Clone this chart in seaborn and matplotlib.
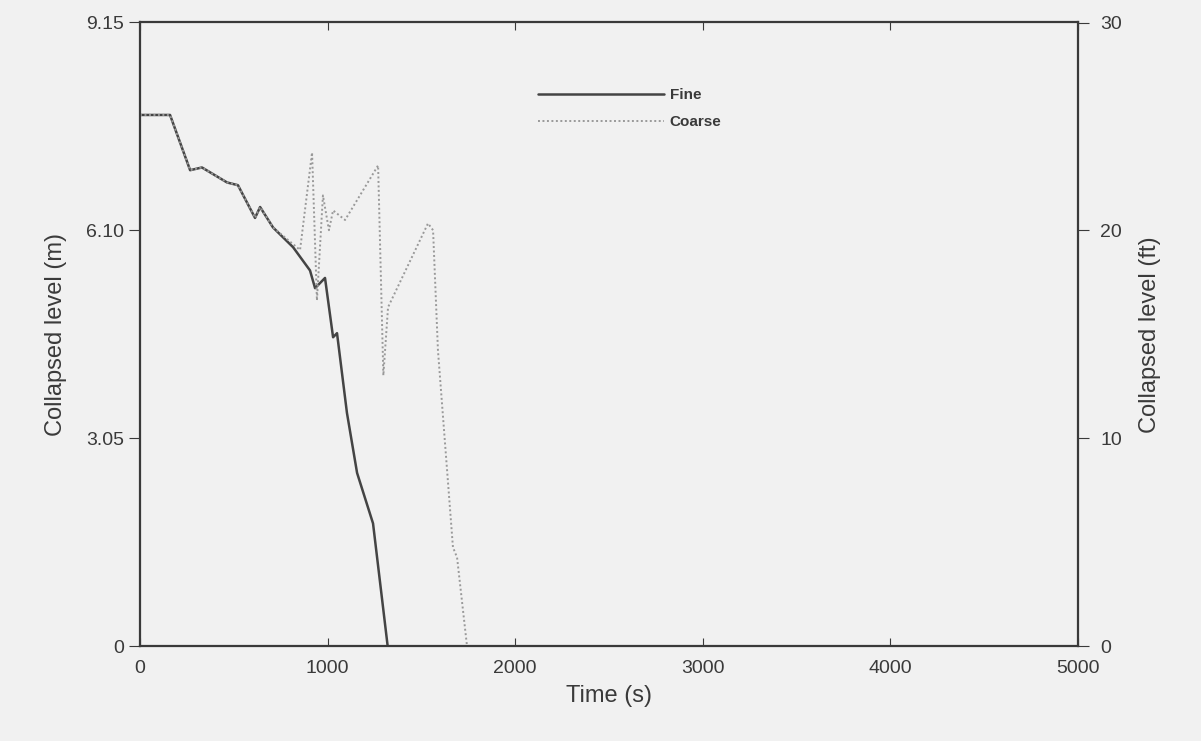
import numpy as np
import pandas as pd
import seaborn as sns
import matplotlib.pyplot as plt

# values (time in s, collapsed level in m)
fine_t = [0, 160, 267, 330, 464, 522, 613, 640, 709, 816, 906, 933, 986, 1029, 1050, 1103, 1157, 1242, 1320]
fine_m = [7.79, 7.79, 6.98, 7.02, 6.80, 6.76, 6.28, 6.44, 6.14, 5.85, 5.51, 5.25, 5.40, 4.53, 4.59, 3.42, 2.54, 1.80, 0.0]

coarse_t = [0, 160, 267, 330, 464, 522, 613, 640, 709, 853, 917, 943, 975, 1007, 1029, 1093, 1269, 1297,
            1322, 1535, 1562, 1588, 1668, 1690, 1743]
coarse_m = [7.79, 7.79, 6.98, 7.02, 6.80, 6.76, 6.28, 6.44, 6.14, 5.81, 7.24, 5.07, 6.61, 6.10, 6.39, 6.25, 7.05, 3.97,
            4.97, 6.20, 6.10, 4.34, 1.45, 1.30, 0.0]

m_ticks = [0, 3.05, 6.10, 9.15]
m_labels = ['0', '3.05', '6.10', '9.15']
ft_ticks = [0, 10, 20, 30]

df_fine = pd.DataFrame({'Time': fine_t, 'Level': fine_m})
df_coarse = pd.DataFrame({'Time': coarse_t, 'Level': coarse_m})

sns.set_style("ticks")
plt.rcParams['font.family'] = ['Liberation Sans', 'DejaVu Sans']
bg = '#f1f1f1'
ink = '#3a3a3a'

fig = plt.figure(figsize=(12.01, 7.41), dpi=100, facecolor=bg)
ax = fig.add_axes([0.1166, 0.128, 0.781, 0.842], facecolor=bg)

sns.lineplot(data=df_fine, x='Time', y='Level', ax=ax, color='#444444', lw=1.8, label='Fine', sort=False)
sns.lineplot(data=df_coarse, x='Time', y='Level', ax=ax, color='#999999', lw=1.4, ls=(0, (1.0, 1.3)),
             label='Coarse', sort=False)

ax.set_xlim(0, 5000)
ax.set_ylim(0, 9.15)
ax.set_xticks([0, 1000, 2000, 3000, 4000, 5000])
ax.set_yticks(m_ticks)
ax.set_yticklabels(m_labels)
ax.tick_params(axis='x', direction='in', top=True, length=6, colors=ink, labelsize=14, pad=10)
ax.tick_params(axis='y', direction='out', length=8, colors=ink, labelsize=14)
for s in ax.spines.values():
    s.set_color(ink)
    s.set_linewidth(1.6)
ax.set_xlabel('Time (s)', fontsize=17, color=ink, labelpad=6)
ax.set_ylabel('Collapsed level (m)', fontsize=17, color=ink, labelpad=14)

ax2 = ax.twinx()
ax2.set_ylim(0, 9.15 / 0.3048)
ax2.set_yticks(ft_ticks)
ax2.tick_params(axis='y', direction='out', length=8, colors=ink, labelsize=14, pad=8)
ax2.set_ylabel('Collapsed level (ft)', fontsize=17, color=ink, labelpad=12)
for s in ax2.spines.values():
    s.set_visible(False)

leg = ax.legend(loc='upper left', bbox_to_anchor=(0.41, 0.916), frameon=False, fontsize=11,
                handlelength=8.2, labelspacing=0.85, handletextpad=0.4)
for t in leg.get_texts():
    t.set_color(ink)
    t.set_fontweight('bold')

fig.savefig('out.png', dpi=100, facecolor=bg)
